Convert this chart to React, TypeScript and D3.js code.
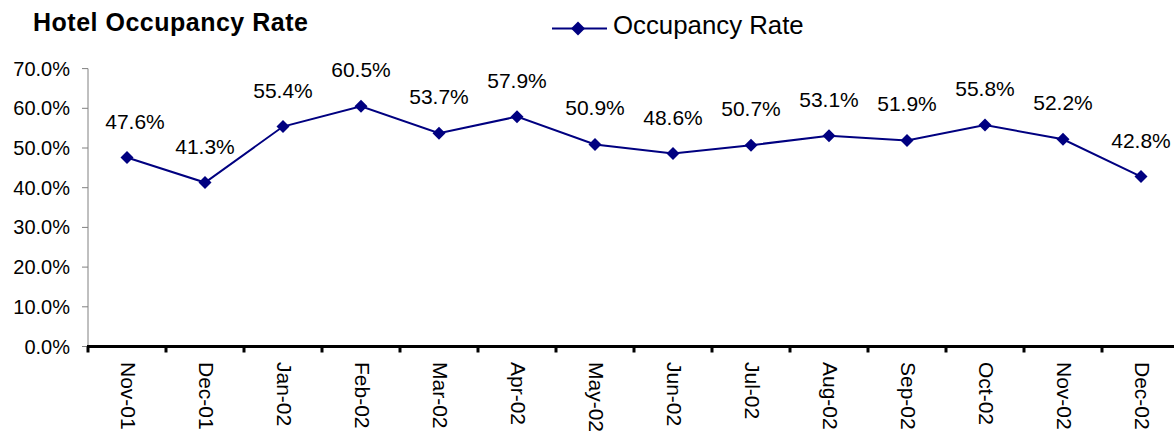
import React from 'react';
import * as d3 from 'd3';

const categories = ['Nov-01', 'Dec-01', 'Jan-02', 'Feb-02', 'Mar-02', 'Apr-02', 'May-02', 'Jun-02', 'Jul-02', 'Aug-02', 'Sep-02', 'Oct-02', 'Nov-02', 'Dec-02'];
const occupancy = [0.476, 0.413, 0.554, 0.605, 0.537, 0.579, 0.509, 0.486, 0.507, 0.531, 0.519, 0.558, 0.522, 0.428];
const yTicks = [0, 0.1, 0.2, 0.3, 0.4, 0.5, 0.6, 0.7];

const W = 1174;
const H = 433;
const FONT = '"Liberation Sans", Arial, sans-serif';
const NAVY = '#000080';

const App: React.FC = () => {
  const left = 88;
  const band = 78;
  const x = d3.scaleBand<string>().domain(categories).range([left, left + band * categories.length]).padding(0);
  const y = d3.scaleLinear().domain([0, 0.7]).range([346.5, 68.6]);
  const fmt = d3.format('.1%');

  const cx = (c: string) => (x(c) as number) + x.bandwidth() / 2;

  const line = d3.line<number>()
    .x((_, i) => cx(categories[i]))
    .y(d => y(d));

  const diamond = (px: number, py: number, r: number) =>
    `M ${px} ${py - r} L ${px + r} ${py} L ${px} ${py + r} L ${px - r} ${py} Z`;

  const boundaries = categories.map(c => x(c) as number).concat([left + band * categories.length]);

  return (
    <svg width={W} height={H} style={{ position: 'fixed', left: 0, top: 0, background: '#fff' }} fontFamily={FONT}>
      {/* title */}
      <text x={33} y={31} fontSize={25} fontWeight="bold" letterSpacing={0.5} fill="#000">Hotel Occupancy Rate</text>

      {/* legend */}
      <line x1={552} x2={607} y1={28.5} y2={28.5} stroke={NAVY} strokeWidth={2} />
      <path d={diamond(578, 28.5, 7)} fill={NAVY} />
      <text x={613} y={34} fontSize={25.8} fill="#000">Occupancy Rate</text>

      {/* y axis */}
      <line x1={left} x2={left} y1={y(0.7)} y2={y(0)} stroke="#808080" strokeWidth={1} />
      {yTicks.map(t => (
        <g key={t}>
          <line x1={left - 6} x2={left} y1={y(t)} y2={y(t)} stroke="#808080" strokeWidth={1} />
          <text x={70} y={y(t)} dy="0.35em" textAnchor="end" fontSize={20} fill="#000">{fmt(t)}</text>
        </g>
      ))}

      {/* x axis */}
      <line x1={left - 1} x2={W} y1={y(0)} y2={y(0)} stroke="#000" strokeWidth={3} />
      {boundaries.map((b, i) => (
        <line key={i} x1={b} x2={b} y1={y(0)} y2={y(0) + 6} stroke="#000" strokeWidth={3} />
      ))}
      {categories.map(c => (
        <text key={c} transform={`translate(${cx(c) + 1},362) rotate(90)`} dy="0.35em" fontSize={21} fill="#000">{c}</text>
      ))}

      {/* series */}
      <path d={line(occupancy) || ''} fill="none" stroke={NAVY} strokeWidth={2} />
      {occupancy.map((v, i) => (
        <path key={i} d={diamond(cx(categories[i]), y(v), 6.5)} fill={NAVY} />
      ))}
      {occupancy.map((v, i) => (
        <text key={i} x={cx(categories[i]) + (i === 0 ? 8 : 0)} y={y(v) - 29} textAnchor="middle" fontSize={21} fill="#000">{fmt(v)}</text>
      ))}
    </svg>
  );
};

export default App;
